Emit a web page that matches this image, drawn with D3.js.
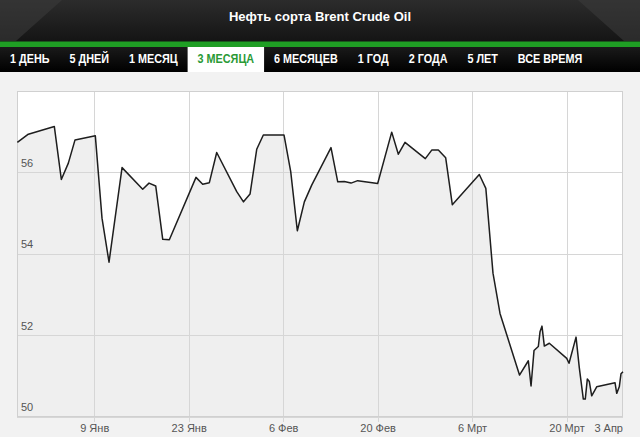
<!DOCTYPE html>
<html><head><meta charset="utf-8">
<script src="https://cdn.jsdelivr.net/npm/d3@7"></script>
<style>
html,body{margin:0;padding:0;background:#f2f2f2;}
svg{display:block;}
</style></head>
<body>
<svg id="c" width="640" height="437"></svg>
<script>
// ---- data ----
const title = "Нефть сорта Brent Crude Oil";
const tabs = ["1 ДЕНЬ","5 ДНЕЙ","1 МЕСЯЦ","3 МЕСЯЦА","6 МЕСЯЦЕВ","1 ГОД","2 ГОДА","5 ЛЕТ","ВСЕ ВРЕМЯ"];
const activeTab = "3 МЕСЯЦА";
// days relative to 9 Jan 2017
const dayOffsets = [-11.47,-9.84,-5.99,-4.95,-3.91,-2.92,0.09,1.08,2.12,4.05,7.11,8.05,9.04,10.08,11.06,
  15.01,16.0,16.99,18.08,21.05,22.05,23.02,24.01,24.99,28.06,29.05,30.03,31.07,32.16,35.02,36.02,36.99,
  37.99,38.98,41.94,44.02,45.0,45.99,49.0,49.95,50.93,52.02,53.0,57.0,57.97,59.03,60.07,62.96,64.27,64.67,
  65.11,65.75,66.0,66.29,66.64,67.38,69.96,70.3,71.34,71.83,72.42,72.71,73.01,73.31,73.66,74.4,77.12,
  77.37,77.75,78.0,78.3];
const prices = [56.74,56.94,57.13,55.83,56.23,56.80,56.90,54.88,53.80,56.12,55.59,55.74,55.67,54.36,54.35,
  55.88,55.71,55.75,56.49,55.53,55.28,55.47,56.57,56.92,56.92,56.02,54.57,55.28,55.69,56.61,55.77,55.78,
  55.74,55.80,55.73,56.99,56.45,56.74,56.34,56.55,56.55,56.36,55.21,55.95,55.61,53.53,52.54,51.03,51.38,50.76,
  51.63,51.73,52.09,52.23,51.74,51.81,51.44,51.32,51.96,51.20,50.44,50.44,50.93,50.87,50.52,50.74,50.84,
  50.58,50.74,51.06,51.11];
const xTickOffsets = [0,14,28,42,56,70];
const xTickLabels = ["9 Янв","23 Янв","6 Фев","20 Фев","6 Мрт","20 Мрт"];
const lastLabel = "3 Апр";
const yTicks = [50,52,54,56];

const base = Date.UTC(2017,0,9);
const toDate = d => new Date(base + d*864e5);
const data = dayOffsets.map((d,i)=>({date:toDate(d), v:prices[i]}));

const svg = d3.select("#c");
const W = 640, H = 437;
const font = "'Liberation Sans', Arial, sans-serif";

// ---- header ----
const defs = svg.append("defs");
const g1 = defs.append("linearGradient").attr("id","hdr").attr("x1",0).attr("y1",0).attr("x2",0).attr("y2",1);
g1.append("stop").attr("offset","0%").attr("stop-color","#2c2c2c");
g1.append("stop").attr("offset","100%").attr("stop-color","#141414");
const g2 = defs.append("linearGradient").attr("id","nav").attr("x1",0).attr("y1",0).attr("x2",0).attr("y2",1);
g2.append("stop").attr("offset","0%").attr("stop-color","#1a1a1a");
g2.append("stop").attr("offset","100%").attr("stop-color","#000");

svg.append("rect").attr("x",0).attr("y",0).attr("width",W).attr("height",42).attr("fill","url(#hdr)");
svg.append("polygon").attr("points","0,0 62,0 16,41 0,41").attr("fill","#3a3a3a").attr("opacity",0.6);
svg.append("polygon").attr("points","640,0 578,0 624,41 640,41").attr("fill","#3a3a3a").attr("opacity",0.6);
svg.append("text").attr("x",320).attr("y",21).attr("text-anchor","middle")
  .attr("font-family",font).attr("font-weight","bold").attr("font-size",13).attr("fill","#fff").text(title);
svg.append("rect").attr("x",0).attr("y",41.5).attr("width",W).attr("height",5.5).attr("fill","#1f9e24");
svg.append("rect").attr("x",0).attr("y",47).attr("width",W).attr("height",25).attr("fill","url(#nav)");

let tx = 10;
const navG = svg.append("g");
tabs.forEach(t=>{
  const active = t===activeTab;
  const txt = navG.append("text").attr("x",tx).attr("y",63)
    .attr("font-family",font).attr("font-weight","bold").attr("font-size",12)
    .attr("fill", active ? "#2a9a36" : "#fff").text(t);
  const nat = txt.node().getComputedTextLength();
  const w = nat*0.9;
  txt.attr("textLength",w).attr("lengthAdjust","spacingAndGlyphs");
  if(active){
    navG.insert("rect","text").attr("x",tx-10).attr("y",47).attr("width",w+20).attr("height",25).attr("fill","#fff");
  }
  tx += w + 20;
});

// ---- chart ----
const L = 17, R = 623, T = 91, B = 417;
const x = d3.scaleUtc().domain([toDate(-11.52), toDate(78.3)]).range([L,R]);
const y = d3.scaleLinear().domain([50,58]).range([B,T]);

svg.append("rect").attr("x",L).attr("y",T).attr("width",R-L).attr("height",B-T).attr("fill","#fff");

const area = d3.area().x(d=>x(d.date)).y0(B).y1(d=>y(d.v));
svg.append("path").datum(data).attr("d",area).attr("fill","#efefef");

// grid
svg.append("g").selectAll("line").data(yTicks).join("line")
  .attr("x1",L).attr("x2",R).attr("y1",d=>y(d)).attr("y2",d=>y(d))
  .attr("stroke","#d6d6d6").attr("stroke-width",1).attr("shape-rendering","crispEdges");
svg.append("g").selectAll("line").data(xTickOffsets).join("line")
  .attr("x1",d=>x(toDate(d))).attr("x2",d=>x(toDate(d))).attr("y1",T).attr("y2",B+5)
  .attr("stroke","#d6d6d6").attr("stroke-width",1).attr("shape-rendering","crispEdges");

svg.append("rect").attr("x",L+0.5).attr("y",T+0.5).attr("width",R-L-1).attr("height",B-T-1)
  .attr("fill","none").attr("stroke","#d0d0d0");

const line = d3.line().x(d=>x(d.date)).y(d=>y(d.v));
svg.append("path").datum(data).attr("d",line).attr("fill","none")
  .attr("stroke","#1e1e1e").attr("stroke-width",1.5).attr("stroke-linejoin","round");

// y labels
svg.append("g").selectAll("text").data(yTicks).join("text")
  .attr("x",L+4).attr("y",d=>y(d)-6)
  .attr("font-family",font).attr("font-size",11).attr("fill","#555").text(d=>d);

// x labels
svg.append("g").selectAll("text").data(xTickOffsets).join("text")
  .attr("x",d=>x(toDate(d))).attr("y",432).attr("text-anchor","middle")
  .attr("font-family",font).attr("font-size",11).attr("fill","#555").text((d,i)=>xTickLabels[i]);
svg.append("text").attr("x",R).attr("y",432).attr("text-anchor","end")
  .attr("font-family",font).attr("font-size",11).attr("fill","#555").text(lastLabel);
</script>
</body></html>
